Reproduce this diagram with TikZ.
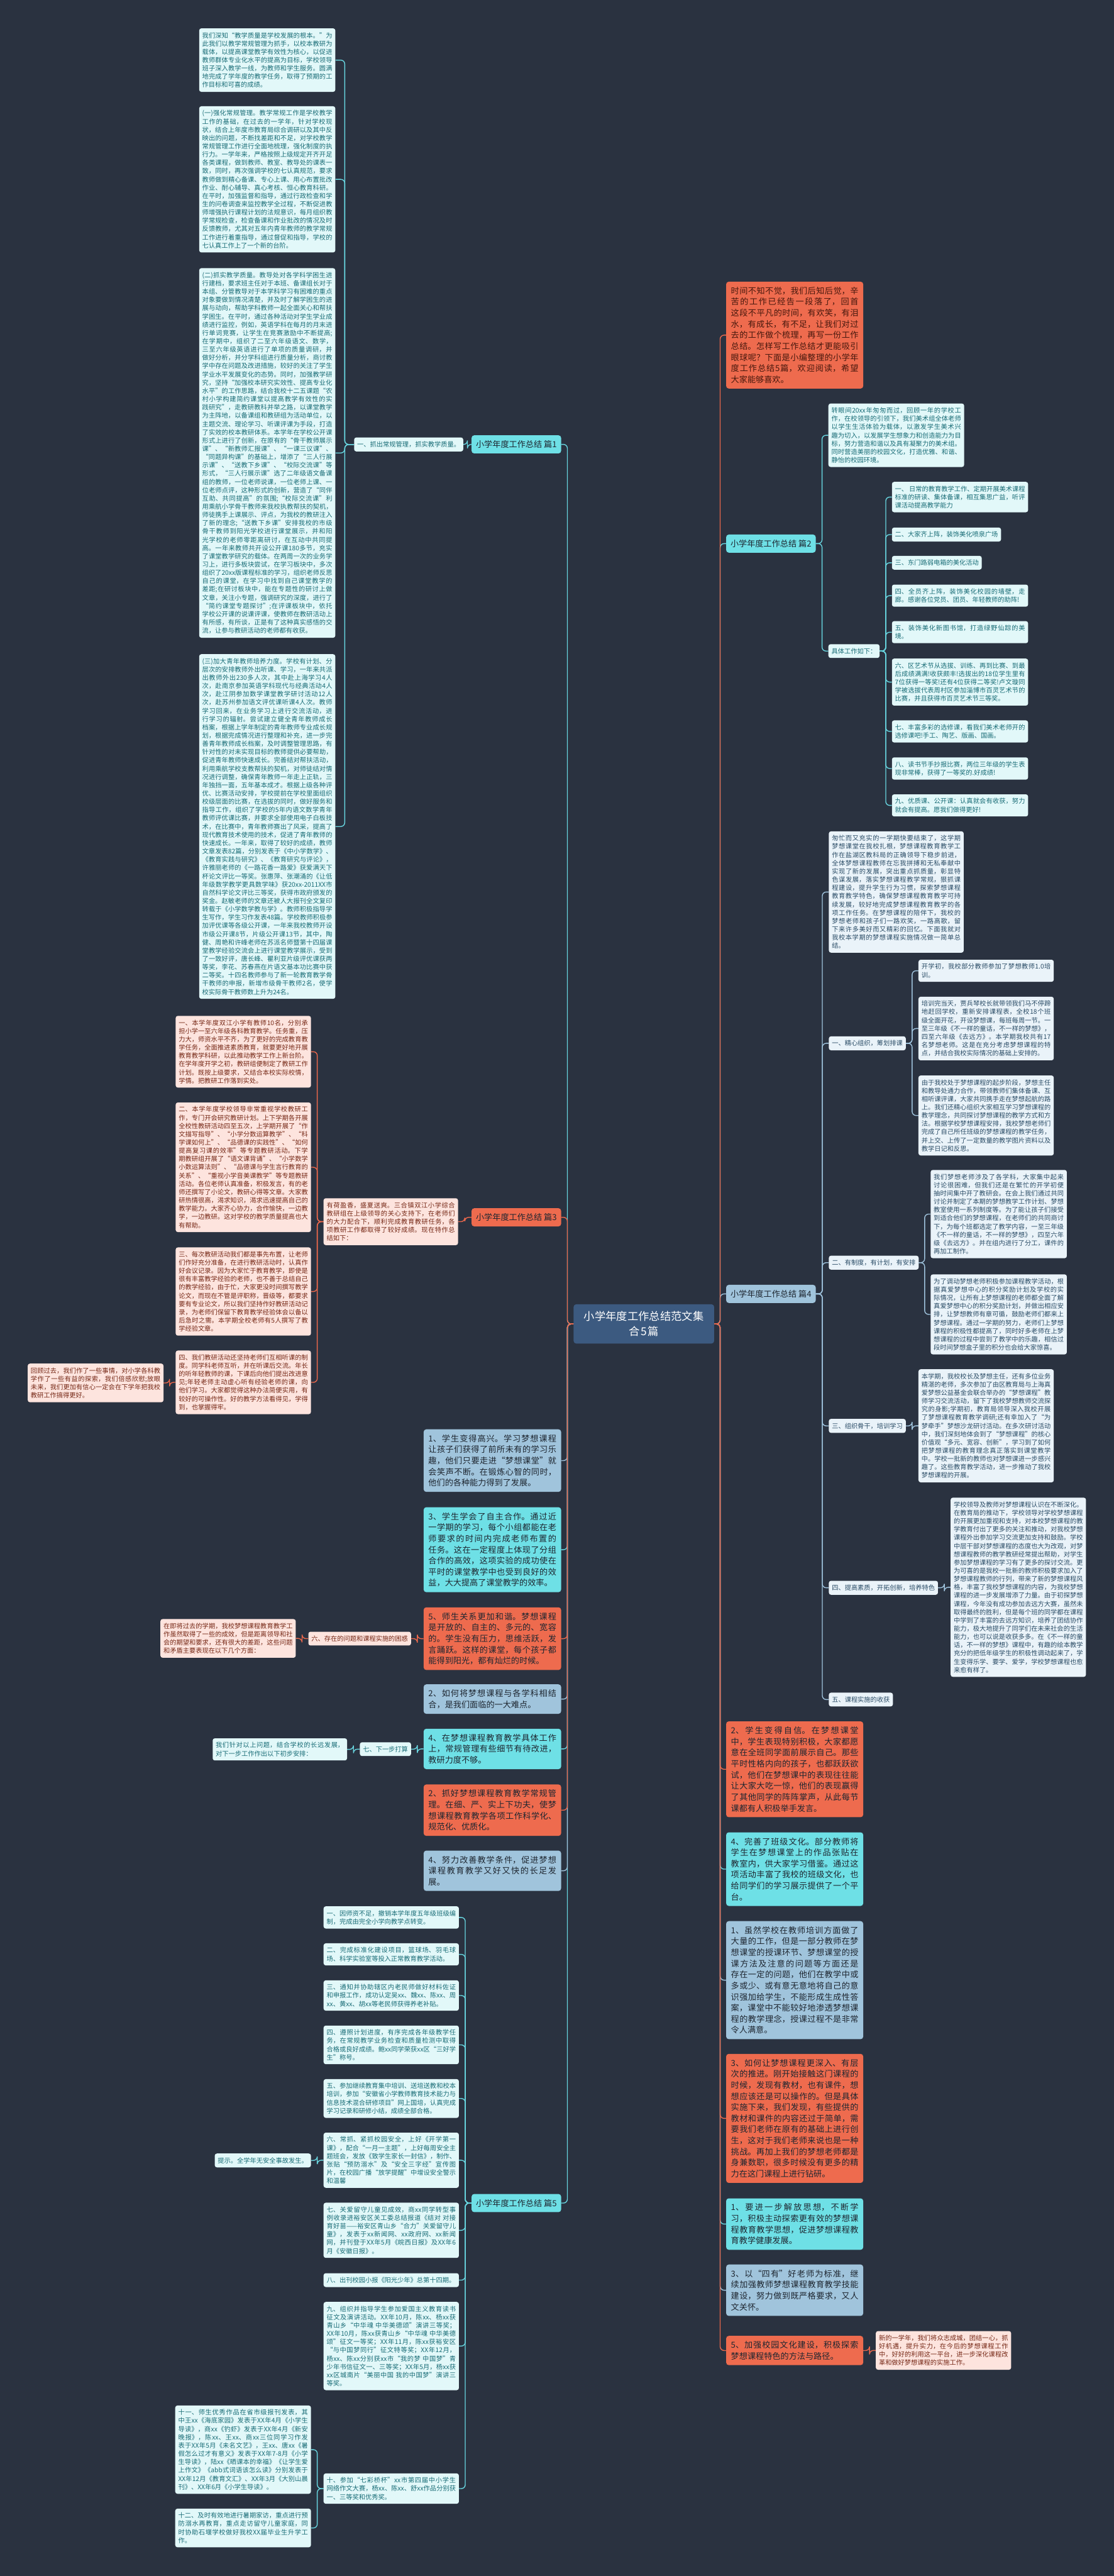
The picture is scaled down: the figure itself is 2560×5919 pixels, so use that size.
\documentclass[tikz,border=0pt]{standalone}
\usepackage{fontspec}
\setmainfont{Noto Sans CJK SC}
\XeTeXlinebreaklocale "zh"
\XeTeXlinebreakskip=0pt plus 1pt
\usetikzlibrary{calc,positioning}
\definecolor{bgC}{RGB}{42,50,64}
\definecolor{paleF}{RGB}{226,248,249}
\definecolor{paleT}{RGB}{24,108,118}
\definecolor{pinkF}{RGB}{253,228,222}
\definecolor{pinkT}{RGB}{118,40,22}
\definecolor{bluF}{RGB}{234,243,249}
\definecolor{bluT}{RGB}{42,76,102}
\definecolor{redF}{RGB}{238,107,78}
\definecolor{cyaF}{RGB}{110,224,230}
\definecolor{stlF}{RGB}{160,196,220}
\definecolor{darkT}{RGB}{30,38,48}
\definecolor{rootF}{RGB}{60,90,128}
\definecolor{cyaL}{RGB}{104,214,224}
\definecolor{redL}{RGB}{236,104,76}
\definecolor{stlL}{RGB}{160,196,222}
\pgfdeclarelayer{back}
\pgfsetlayers{back,main}
\setlength{\parindent}{0pt}
\begin{document}
\begin{tikzpicture}[x=1pt,y=-1pt,
  sm/.style={font=\fontsize{14.8}{19}\selectfont,inner xsep=7pt,inner ysep=9pt,rounded corners=5pt},
  lg/.style={font=\fontsize{19}{25.5}\selectfont,inner xsep=11pt,inner ysep=12pt,rounded corners=6pt,text=darkT},
  para/.style={text width=#1,align=justify},
  pale/.style={sm,fill=paleF,text=paleT},
  pink/.style={sm,fill=pinkF,text=pinkT},
  bluish/.style={sm,fill=bluF,text=bluT},
  redbox/.style={lg,fill=redF},
  cyabox/.style={lg,fill=cyaF},
  stlbox/.style={lg,fill=stlF},
  head/.style={font=\fontsize{19}{25}\selectfont,inner xsep=10pt,inner ysep=12pt,rounded corners=6pt,text=darkT},
  lft/.style={anchor=north east},
  rgt/.style={anchor=north west},
  link/.style={line width=2pt,rounded corners=9pt},
  cyl/.style={link,draw=cyaL},
  redl/.style={link,draw=redL},
  stll/.style={link,draw=stlL},
  elbow/.style={to path={let \p1=(\tikztostart),\p2=(\tikztotarget) in -- ({(\x1+\x2)/2},\y1) |- (\tikztotarget)}}]
\useasboundingbox (0,0) rectangle (2560,5919);

\node[font=\fontsize{25}{35}\selectfont,fill=rootF,text=white,rounded corners=6pt,inner xsep=19pt,inner ysep=16pt,text width=285pt,align=center] (root) at (1480,3042) {小学年度工作总结范文集\\合5篇};

% 篇1
\node[head,fill=cyaF,lft] (h1) at (1290,1000) {小学年度工作总结 篇1};
\node[pale,lft] (a1) at (1065,1005) {一、抓出常规管理，抓实教学质量。};
\node[pale,lft,para=299pt] (b1) at (771,65) {我们深知“教学质量是学校发展的根本。”为此我们以教学常规管理为抓手，以校本教研为载体，以提高课堂教学有效性为核心，以促进教师群体专业化水平的提高为目标，学校领导班子深入教学一线，为教师和学生服务。圆满地完成了学年度的教学任务，取得了预期的工作目标和可喜的成绩。};
\node[pale,lft,para=299pt] (b2) at (771,244) {(一)强化常规管理。教学常规工作是学校教学工作的基础，在过去的一学年，针对学校现状，结合上年度市教育局综合调研以及其中反映出的问题，不断找差距和不足，对学校教学常规管理工作进行全面地梳理，强化制度的执行力。一学年来，严格按照上级规定开齐开足各类课程，做到教师、教室、教导处的课表一致，同时，再次强调学校的七认真规范，要求教师做到精心备课、专心上课、用心布置批改作业、耐心辅导、真心考核、恒心教育科研。在平时，加强监督和指导，通过行政检查和学生的问卷调查来监控教学全过程，不断促进教师增强执行课程计划的法规意识，每月组织教学常规检查，检查备课和作业批改的情况及时反馈教师，尤其对五年内青年教师的教学常规工作进行着重指导，通过督促和指导，学校的七认真工作上了一个新的台阶。};
\node[pale,lft,para=299pt] (b3) at (771,616) {(二)抓实教学质量。教导处对各学科学困生进行建档，要求班主任对于本班、备课组长对于本组、分管教导对于本学科学习有困难的重点对象要做到情况清楚，并及时了解学困生的进展与动向，帮助学科教师一起全面关心和帮扶学困生。在平时，通过各种活动对学生学业成绩进行监控，例如，英语学科在每月的月末进行单词竞赛，让学生在竞赛激励中不断提高;在学期中，组织了二至六年级语文、数学，三至六年级英语进行了单项的质量调研，并做好分析，并分学科组进行质量分析，商讨教学中存在问题及改进措施，较好的关注了学生学业水平发展变化的态势。同时，加强教学研究，坚持“加强校本研究实效性、提高专业化水平”的工作思路，结合我校十二五课题“农村小学构建简约课堂以提高教学有效性的实践研究”，走教研教科并举之路，以课堂教学为主阵地，以备课组和教研组为活动单位，以主题交流、理论学习、听课评课为手段，打造了实效的校本教研体系。本学年在学校公开课形式上进行了创新，在原有的“骨干教师展示课”、“新教师汇报课”、“一课三议课”、“同题异构课”的基础上，增添了“三人行展示课”、“送教下乡课”、“校际交流课”等形式，“三人行展示课”选了二年级语文备课组的教师，一位老师说课，一位老师上课、一位老师点评，这种形式的创新，营造了“同伴互助、共同提高”的氛围;“校际交流课”利用乘航小学骨干教师来我校执教帮扶的契机，师徒携手上课展示、评点，为我校的教研注入了新的理念;“送教下乡课”安排我校的市级骨干教师到阳光学校进行课堂展示，并和阳光学校的老师零距离研讨，在互动中共同提高。一年来教师共开设公开课180多节，充实了课堂教学研究的载体。在两周一次的业务学习上，进行多板块尝试，在学习板块中，多次组织了20xx版课程标准的学习，组织老师反思自己的课堂，在学习中找到自己课堂教学的差距;在研讨板块中，能在专题性的研讨上做文章，关注小专题，强调研究的深度，进行了“简约课堂专题探讨”;在评课板块中，依托学校公开课的说课评课，使教师在教研活动上有所感，有所谈，正是有了这种真实感悟的交流，让参与教研活动的老师都有收获。};
\node[pale,lft,para=299pt] (b4) at (771,1503) {(三)加大青年教师培养力度。学校有计划、分层次的安排教师外出听课、学习，一年来共派出教师外出230多人次，其中赴上海学习4人次，赴南京参加英语学科现代与经典活动4人次，赴江阴参加数学课堂教学研讨活动12人次，赴苏州参加语文评优课听课4人次。教师学习回来，在业务学习上进行交流活动，进行学习的辐射。尝试建立健全青年教师成长档案，根据上学年制定的青年教师专业成长规划，根据完成情况进行整理和补充，进一步完善青年教师成长档案，及时调整管理思路，有针对性的对未实现目标的教师提供必要帮助，促进青年教师快速成长。完善结对帮扶活动，利用乘航学校支教帮扶的契机，对师徒结对情况进行调整，确保青年教师一年走上正轨，三年独挡一面，五年基本成才。根据上级各种评优、比赛活动安排，学校提前在学校里面组织校级层面的比赛，在选拔的同时，做好服务和指导工作，组织了学校的5年内语文数学青年教师评优课比赛，并要求全部使用电子白板技术，在比赛中，青年教师赛出了风采，提高了现代教育技术使用的技术，促进了青年教师的快速成长。一年来，取得了较好的成绩，教师文章发表82篇，分别发表于《中小学数学》、《教育实践与研究》、《教育研究与评论》，许雅丽老师的《一路花香一路爱》获爱满天下杯论文评比一等奖。张惠萍、张潮涌的《让低年级数学教学更具数学味》获20xx-2011XX市自然科学论文评比三等奖，获得市政府颁发的奖金。赵敏老师的文章还被人大报刊全文复印转载于《小学数学教与学》。教师积极指导学生写作，学生习作发表48篇。学校教师积极参加评优课等各级公开课，一年来我校教师开设市级公开课8节，片级公开课13节，其中，陶健、周艳和许峰老师在苏派名师暨第十四届课堂教学经验交流会上进行课堂教学展示，受到了一致好评，唐长峰、瞿利亚片级评优课获两等奖，李花、苏春燕在片语文基本功比赛中获二等奖。十四名教师参与了新一轮教育教学骨干教师的申报，新增市级骨干教师2名，使学校实际骨干教师数上升为24名。};

% 篇3
\node[head,fill=redF,lft] (h3) at (1290,2776) {小学年度工作总结 篇3};
\node[pink,lft,para=295pt] (p3) at (1053,2753) {有荷盈香，盛夏送爽。三合镇双江小学综合教研组在上级领导的关心支持下，在老师们的大力配合下，顺利完成教育教研任务，各项教研工作都取得了较好成绩。现在特作总结如下：};
\node[pink,lft,para=297pt] (c1) at (715,2334) {一、本学年度双江小学有教师10名，分别承担小学一至六年级各科教育教学。任务重，压力大，师资水平不齐，为了更好的完成教育教学任务，全面推进素质教育，就要更好地开展教育教学科研，以此推动教学工作上新台阶。在学年度开学之初，教研组便制定了教研工作计划。既按上级要求，又结合本校实际校情，学情。把教研工作落到实处。};
\node[pink,lft,para=297pt] (c2) at (715,2533) {二、本学年度学校领导非常重视学校教研工作，专门开会研究教研计划。上下学期各开展全校性教研活动四至五次，上学期开展了“作文描写指导”、“小学分数运算教学”、“科学课如何上”、“品德课的实践性”、“如何提高复习课的效率”等专题教研活动。下学期教研组开展了“语文课背诵”、“小学数学小数运算法则”、“品德课与学生言行教育的关系”、“重视小学音美课教学”等专题教研活动。各位老师认真准备，积极发言，有的老师还撰写了小论文，教研心得等文章。大家教研热情很高，渴求知识，渴求迅速提高自己的教学能力。大家齐心协力，合作愉快，一边教学，一边教研。这对学校的教学质量提高也大有帮助。};
\node[pink,lft,para=297pt] (c3) at (715,2866) {三、每次教研活动我们都是事先布置，让老师们作好充分准备，在进行教研活动时，认真作好会议记录。因为大家忙于教育教学，即使是很有丰富教学经验的老师，也不善于总结自己的教学经验，由于忙，大家更没时间撰写教学论文，而现在不管是评职称，晋级等，都要求要有专业论文，所以我们坚持作好教研活动记录，为老师们保留下教育教学经验体会以备以后急时之需。本学期全校老师有5人撰写了教学经验文章。};
\node[pink,lft,para=297pt] (c4) at (715,3103) {四、我们教研活动还坚持老师们互相听课的制度。同学科老师互听，并在听课后交流。年长的听年轻教师的课，下课后向他们提出改进意见;年轻老师主动虚心听有经验老师的课，向他们学习。大家都觉得这种办法简便实用，有较好的可操作性。好的教学方法看得见，学得到，也掌握得牢。};
\node[pink,lft,para=298pt] (c4a) at (376,3133) {回顾过去，我们作了一些事情，对小学各科教学作了一些有益的探索，我们倍感欣慰;放眼未来，我们更加有信心一定会在下学年把我校教研工作搞得更好。};

% 左侧编号条目
\node[stlbox,lft,para=294pt] (L1) at (1290,3284) {1、学生变得高兴。学习梦想课程让孩子们获得了前所未有的学习乐趣，他们只要走进“梦想课堂”就会笑声不断。在锻炼心智的同时，他们的各种能力得到了发展。};
\node[cyabox,lft,para=294pt] (L3) at (1290,3463) {3、学生学会了自主合作。通过近一学期的学习，每个小组都能在老师要求的时间内完成老师布置的任务。这在一定程度上体现了分组合作的高效，这项实验的成功使在平时的课堂教学中也受到良好的效益，大大提高了课堂教学的效率。};
\node[redbox,lft,para=294pt] (L5) at (1290,3693) {5、师生关系更加和谐。梦想课程是开放的、自主的、多元的、宽容的。学生没有压力，思维活跃，发言踊跃。这样的课堂，每个孩子都能得到阳光，都有灿烂的时候。};
\node[pink,lft] (six) at (945,3749) {六、存在的问题和课程实施的困惑};
\node[pink,lft,para=297pt] (sixa) at (680,3720) {在即将过去的学期，我校梦想课程教育教学工作虽然取得了一些的成效，但是距离领导和社会的期望和要求，还有很大的差距，这些问题和矛盾主要表现在以下几个方面：};
\node[stlbox,lft,para=294pt] (L2) at (1290,3870) {2、如何将梦想课程与各学科相结合，是我们面临的一大难点。};
\node[cyabox,lft,para=294pt] (L4) at (1290,3972) {4、在梦想课程教育教学具体工作上，常规管理有些细节有待改进，教研力度不够。};
\node[pale,lft] (seven) at (945,4003) {七、下一步打算};
\node[pale,lft,para=295pt] (sevena) at (798,3994) {我们针对以上问题，结合学校的长远发展，对下一步工作作出以下初步安排：};
\node[redbox,lft,para=294pt] (L2b) at (1290,4100) {2、抓好梦想课程教育教学常规管理。在细、严、实上下功夫，使梦想课程教育教学各项工作科学化、规范化、优质化。};
\node[stlbox,lft,para=294pt] (L4b) at (1290,4252) {4、努力改善教学条件，促进梦想课程教育教学又好又快的长足发展。};

% 篇5
\node[head,fill=cyaF,lft] (h5) at (1290,5041) {小学年度工作总结 篇5};
\node[pale,lft,para=297pt] (f1) at (1055,4380) {一、因师资不足，撤销本学年度五年级班级编制，完成由完全小学向教学点转变。};
\node[pale,lft,para=297pt] (f2) at (1055,4465) {二、完成标准化建设项目，篮球场、羽毛球场、科学实验室等投入正常教育教学活动。};
\node[pale,lft,para=297pt] (f3) at (1055,4550) {三、通知并协助辖区内老民师做好材料佐证和申报工作，成功认定吴xx、魏xx、陈xx、周xx、黄xx、胡xx等老民师获得养老补贴。};
\node[pale,lft,para=297pt] (f4) at (1055,4654) {四、遵照计划进度，有序完成各年级教学任务，在常规教学业务检查和质量检测中取得合格或良好成绩。鲍xx同学荣获xx区“三好学生”称号。};
\node[pale,lft,para=297pt] (f5) at (1055,4777) {五、参加继续教育集中培训、送培送教和校本培训，参加“安徽省小学教师教育技术能力与信息技术混合研修项目”网上国培，认真完成学习记录和研修小结，成绩全部合格。};
\node[pale,lft,para=297pt] (f6) at (1055,4900) {六、常抓、紧抓校园安全，上好《开学第一课》，配合“一月一主题”，上好每周安全主题班会，发放《致学生家长一封信》，制作、张贴“预防溺水”及“安全三字经”宣传图片，在校园广播“放学提醒”中增设安全警示和温馨};
\node[pale,lft] (f6a) at (715,4948) {提示。全学年无安全事故发生。};
\node[pale,lft,para=297pt] (f7) at (1055,5061) {七、关爱留守儿童见成效，商xx同学转型事例收录进裕安区关工委总结报道《结对 对接 育好苗——裕安区青山乡“合力”关爱留守儿童》，发表于xx新闻网、xx政府网、xx新闻网，并刊登于XX年5月《皖西日报》及XX年6月《安徽日报》。};
\node[pale,lft,para=297pt] (f8) at (1055,5223) {八、出刊校园小报《阳光少年》总第十四期。};
\node[pale,lft,para=297pt] (f9) at (1055,5289) {九、组织并指导学生参加爱国主义教育读书征文及演讲活动。XX年10月，陈xx、杨xx获青山乡“中华魂 中华美德颂”演讲三等奖；XX年10月，陈xx获青山乡“中华魂 中华美德颂”征文一等奖；XX年11月，陈xx获裕安区“与中国梦同行”征文特等奖；XX年12月，杨xx、陈xx分别获xx市“我的梦 中国梦”青少年书信征文一、三等奖；XX年5月，杨xx获xx区城南片“美丽中国 我的中国梦”演讲三等奖。};
\node[pale,lft,para=297pt] (f10) at (1055,5683) {十、参加“七彩桥杯”xx市第四届中小学生网络作文大赛，杨xx、陈xx、舒xx作品分别获一、三等奖和优秀奖。};
\node[pale,lft,para=298pt] (f11) at (715,5527) {十一、师生优秀作品在省市级报刊发表，其中王xx《海底家园》发表于XX年4月《小学生导读》，商xx《钓虾》发表于XX年4月《新安晚报》，陈xx、王xx、商xx三位同学习作发表于XX年5月《未名文艺》，王xx、唐xx《暑假怎么过才有意义》发表于XX年7-8月《小学生导读》，陆xx《晒课本的幸福》《让学生爱上作文》《abb式词语该怎么读》分别发表于XX年12月《教育文汇》、XX年3月《大别山晨刊》、XX年6月《小学生导读》。};
\node[pale,lft,para=298pt] (f12) at (715,5764) {十二、及时有效地进行暑期家访，重点进行预防溺水再教育，重点走访留守儿童家庭，同时协助石堰学校做好我校XX届毕业生升学工作。};

% 右侧
\node[redbox,rgt,para=293pt,text=pinkT!60!black] (intro) at (1669,647) {时间不知不觉，我们后知后觉，辛苦的工作已经告一段落了，回首这段不平凡的时间，有欢笑，有泪水，有成长，有不足，让我们对过去的工作做个梳理，再写一份工作总结。怎样写工作总结才更能吸引眼球呢？下面是小编整理的小学年度工作总结5篇，欢迎阅读，希望大家能够喜欢。};

% 篇2
\node[head,fill=cyaF,rgt] (h2) at (1669,1228) {小学年度工作总结 篇2};
\node[pale,rgt,para=298pt] (g0) at (1904,927) {转眼间20xx年匆匆而过，回顾一年的学校工作，在校领导的引领下，我们美术组全体老师以学生生活体验为载体，以激发学生美术兴趣为切入，以发展学生想象力和创造能力为目标，努力营造和谐以及具有凝聚力的美术组。同时营造美丽的校园文化，打造优雅、和谐、静怡的校园环境。};
\node[pale,rgt] (gj) at (1904,1480) {具体工作如下：};
\node[pale,rgt,para=299pt] (g1) at (2050,1107) {一、 日常的教育教学工作、定期开展美术课程标准的研读、集体备课，相互集思广益，听评课活动提高教学能力};
\node[pale,rgt] (g2) at (2050,1212) {二、大家齐上阵，装饰美化喷泉广场};
\node[pale,rgt] (g3) at (2050,1277) {三、东门路弱电箱的美化活动};
\node[pale,rgt,para=299pt] (g4) at (2050,1343) {四、全员齐上阵，装饰美化校园的墙壁，走廊。感谢各位党员、团员、年轻教师的助阵!};
\node[pale,rgt,para=299pt] (g5) at (2050,1427) {五、装饰美化新图书馆，打造绿野仙踪的美境。};
\node[pale,rgt,para=299pt] (g6) at (2050,1513) {六、区艺术节从选拔、训练、再到比赛、到最后成绩满满!收获颇丰!选拔出的18位学生里有7位获得一等奖!还有4位获得二等奖!卢文璇同学被选拔代表周村区参加淄博市百灵艺术节的比赛，并且获得市百灵艺术节三等奖。};
\node[pale,rgt,para=299pt] (g7) at (2050,1655) {七、丰富多彩的选修课，看我们美术老师开的选修课吧!手工、陶艺、版画、国画。};
\node[pale,rgt,para=299pt] (g8) at (2050,1740) {八、读书节手抄报比赛，两位三年级的学生表现非常棒，获得了一等奖的.好成绩!};
\node[pale,rgt,para=299pt] (g9) at (2050,1825) {九、优质课、公开课：认真就会有收获，努力就会有提高。愿我们做得更好!};

% 篇4
\node[head,fill=stlF,rgt] (h4) at (1669,2952) {小学年度工作总结 篇4};
\node[bluish,rgt,para=296pt] (k0) at (1905,1910) {匆忙而又充实的一学期快要结束了，这学期梦想课堂在我校扎根，梦想课程教育教学工作在盐湖区教科局的正确领导下稳步前进，全体梦想课程教师在忘我拼搏和无私奉献中实现了新的发展，突出重点抓质量，彰显特色谋发展，落实梦想课程教学常规，狠抓课程建设，提升学生行为习惯，探索梦想课程教育教学特色，确保梦想课程教育教学可持续发展，较好地完成梦想课程教育教学的各项工作任务。在梦想课程的陪伴下，我校的梦想老师和孩子们一路欢笑，一路高歌，留下来许多美好而又精彩的回忆。下面我就对我校本学期的梦想课程实施情况做一简单总结。};
\node[bluish,rgt] (k1) at (1905,2381) {一、精心组织，筹划排课};
\node[bluish,rgt,para=297pt] (k1a) at (2111,2205) {开学初，我校部分教师参加了梦想教师1.0培训。};
\node[bluish,rgt,para=297pt] (k1b) at (2111,2290) {培训完当天，贾兵琴校长就带领我们马不停蹄地赶回学校，重新安排课程表，全校18个班级全面开花，开设梦想课，每班每周一节。一至三年级《不一样的童话，不一样的梦想》，四至六年级《去远方》。本学期我校共有17名梦想老师。这是在充分考虑梦想课程的特点，并结合我校实际情况的基础上安排的。};
\node[bluish,rgt,para=297pt] (k1c) at (2111,2471) {由于我校处于梦想课程的起步阶段，梦想主任和教导处通力合作，带领教师们集体备课、互相听课评课，大家共同携手走在梦想起航的路上。我们还精心组织大家相互学习梦想课程的教学理念，共同探讨梦想课程的教学方式和方法。根据学校梦想课程安排，我校梦想老师们完成了自己所任班级的梦想课程的教学任务，并上交、上传了一定数量的教学图片资料以及教学日记和反思。};
\node[bluish,rgt] (k2) at (1905,2885) {二、有制度，有计划，有安排};
\node[bluish,rgt,para=299pt] (k2a) at (2139,2688) {我们梦想老师涉及了各学科，大家集中起来讨论很困难，但我们还是在繁忙的开学初便抽时间集中开了教研会。在会上我们通过共同讨论并制定了本期的梦想教学工作计划、梦想教室使用一系列制度等。为了能让孩子们接受到适合他们的梦想课程，在老师们的共同商讨下，为每个班都选定了教学内容，一至三年级《不一样的童话，不一样的梦想》，四至六年级《去远方》。并在组内进行了分工，课件的再加工制作。};
\node[bluish,rgt,para=299pt] (k2b) at (2139,2928) {为了调动梦想老师积极参加课程教学活动，根据真爱梦想中心的积分奖励计划及学校的实际情况，让所有上梦想课程的老师都全面了解真爱梦想中心的积分奖励计划，并做出相应安排，让梦想教师有章可循，鼓励老师们都来上梦想课程。通过一学期的努力，老师们上梦想课程的积极性都提高了，同时好多老师在上梦想课程的过程中尝到了教学中的乐趣，相信过段时间梦想盒子里的积分也会给大家惊喜。};
\node[bluish,rgt] (k3) at (1905,3260) {三、组织骨干，培训学习};
\node[bluish,rgt,para=297pt] (k3a) at (2111,3146) {本学期，我校校长及梦想主任，还有多位业务精湛的老师，多次参加了由区教育局与上海真爱梦想公益基金会联合举办的“梦想课程”教师学习交流活动，留下了我校梦想教师交流探究的身影;学期初，教育局领导深入我校开展了梦想课程教育教学调研;还有幸加入了“为梦牵手”梦想沙龙研讨活动。在多次研讨活动中，我们深刻地体会到了“梦想课程”的核心价值观“多元、宽容、创新”，学习到了如何把梦想课程的教育理念真正落实到课堂教学中。学校一批新的教师也对梦想课进一步感兴趣了。这些教育教学活动，进一步推动了我校梦想课程的开展。};
\node[bluish,rgt] (k4) at (1905,3632) {四、提高素质，开拓创新，培养特色};
\node[bluish,rgt,para=297pt] (k4a) at (2185,3441) {学校领导及教师对梦想课程认识在不断深化。在教育局的推动下，学校领导对学校梦想课程的开展更加重视和支持，对本校梦想课程的教学教育付出了更多的关注和推动，对我校梦想课程外出参加学习交流更加支持和鼓励。学校中层干部对梦想课程的态度也大为改观，对梦想课程教师的教学教研经常提出帮助，对学生参加梦想课程的学习有了更多的探讨交流。更为可喜的是我校一批新的教师积极要求加入了梦想课程教师的行列，带来了新的梦想课程风格，丰富了我校梦想课程的内容，为我校梦想课程的进一步发展增添了力量。由于初探梦想课程，今年没有成功参加去远方大赛，虽然未取得最终的胜利，但是每个班的同学都在课程中学到了丰富的去远方知识，培养了团结协作能力，极大地提升了同学们在未来社会的生活能力，也可以说是收获多多。在《不一样的童话，不一样的梦想》课程中，有趣的绘本教学充分的把低年级学生的积极性调动起来了，学生变得乐学、要学、爱学，学校梦想课程也愈来愈有样了。};
\node[bluish,rgt] (k5) at (1905,3889) {五、课程实施的收获};

% 右侧编号条目
\node[redbox,rgt,para=293pt] (R2) at (1669,3955) {2、学生变得自信。在梦想课堂中，学生表现特别积极，大家都愿意在全班同学面前展示自己。那些平时性格内向的孩子，也都跃跃欲试，他们在梦想课中的表现往往能让大家大吃一惊，他们的表现赢得了其他同学的阵阵掌声，从此每节课都有人积极举手发言。};
\node[cyabox,rgt,para=293pt] (R4) at (1669,4210) {4、完善了班级文化。部分教师将学生在梦想课堂上的作品张贴在教室内，供大家学习借鉴。通过这项活动丰富了我校的班级文化，也给同学们的学习展示提供了一个平台。};
\node[stlbox,rgt,para=293pt] (R1) at (1669,4414) {1、虽然学校在教师培训方面做了大量的工作，但是一部分教师在梦想课堂的授课环节、梦想课堂的授课方法及注意的问题等方面还是存在一定的问题，他们在教学中或多或少、或有意无意地将自己的意识强加给学生，不能形成生成性答案，课堂中不能较好地渗透梦想课程的教学理念，授课过程不是非常令人满意。};
\node[redbox,rgt,para=293pt] (R3) at (1669,4719) {3、如何让梦想课程更深入、有层次的推进。刚开始接触这门课程的时候，发现有教材，也有课件，想想应该还是可以操作的。但是具体实施下来，我们发现，有些提供的教材和课件的内容还过于简单，需要我们老师在原有的基础上进行创生，这对于我们老师来说也是一种挑战。再加上我们的梦想老师都是身兼数职，很多时候没有更多的精力在这门课程上进行钻研。};
\node[cyabox,rgt,para=293pt] (R1b) at (1669,5051) {1、要进一步解放思想，不断学习，积极主动探索更有效的梦想课程教育教学思想，促进梦想课程教育教学健康发展。};
\node[stlbox,rgt,para=293pt] (R3b) at (1669,5203) {3、以“四有”好老师为标准，继续加强教师梦想课程教育教学技能建设，努力做到既严格要求，又人文关怀。};
\node[redbox,rgt,para=293pt] (R5) at (1669,5367) {5、加强校园文化建设，积极探索梦想课程特色的方法与路径。};
\node[pink,rgt,para=297pt] (R5a) at (2013,5356) {新的一学年，我们将众志成城，团结一心，抓好机遇，提升实力，在今后的梦想课程工作中，好好的利用这一平台，进一步深化课程改革和做好梦想课程的实施工作。};

\begin{pgfonlayer}{back}
\fill[bgC] (0,0) rectangle (2560,5919);
\foreach \a/\b in {root/h1,root/L3,root/L4,root/h5,h1/a1,a1/b1,a1/b2,a1/b3,a1/b4,L4/seven,seven/sevena,h5/f1,h5/f2,h5/f3,h5/f4,h5/f5,h5/f6,h5/f7,h5/f8,h5/f9,h5/f10,f6/f6a,f10/f11,f10/f12}
  \draw[cyl] (\a.west) to[elbow] (\b.east);
\foreach \a/\b in {root/L1,root/L2,root/L4b}
  \draw[stll] (\a.west) to[elbow] (\b.east);
\foreach \a/\b in {root/h3,root/L5,root/L2b,h3/p3,p3/c1,p3/c2,p3/c3,p3/c4,c4/c4a,L5/six,six/sixa}
  \draw[redl] (\a.west) to[elbow] (\b.east);
\foreach \a/\b in {root/h2,root/R4,root/R1b,h2/g0,h2/gj,gj/g1,gj/g2,gj/g3,gj/g4,gj/g5,gj/g6,gj/g7,gj/g8,gj/g9}
  \draw[cyl] (\a.east) to[elbow] (\b.west);
\foreach \a/\b in {root/h4,root/R1,root/R3b,h4/k0,h4/k1,h4/k2,h4/k3,h4/k4,h4/k5,k1/k1a,k1/k1b,k1/k1c,k2/k2a,k2/k2b,k3/k3a,k4/k4a}
  \draw[stll] (\a.east) to[elbow] (\b.west);
\foreach \a/\b in {root/intro,root/R2,root/R3,root/R5,R5/R5a}
  \draw[redl] (\a.east) to[elbow] (\b.west);
\end{pgfonlayer}
\end{tikzpicture}
\end{document}
